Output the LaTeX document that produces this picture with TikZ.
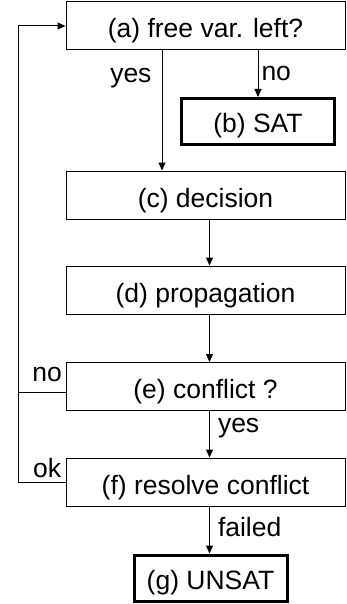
\documentclass[tikz,border=0pt]{standalone}
\usepackage{fontspec}
\setmainfont{Liberation Sans}
\usetikzlibrary{arrows.meta,positioning,calc}
\tikzset{
  stepbox/.style={draw, line width=1pt, minimum width=279pt, minimum height=48pt, inner sep=0pt,
    text height=25pt, text depth=1pt},
  endbox/.style={draw, line width=3pt, minimum width=153pt, minimum height=46pt, inner sep=0pt,
    text height=24pt, text depth=2pt},
  flow/.style={-{Triangle[length=8pt,width=7pt]}, line width=1pt},
  back/.style={line width=1pt},
  lbl/.style={inner sep=0pt},
}

\begin{document}
\begin{tikzpicture}[x=1pt,y=-1pt,font=\fontsize{26.5}{30}\selectfont]
  \useasboundingbox (0,0) rectangle (346,604);

  \node[stepbox] (a) at (205.5,26)   {(a) free var. left?};
  \node[endbox]  (b) at (258,121.5)  {(b) SAT};
  \node[stepbox] (c) at (205.5,195)  {(c) decision};
  \node[stepbox] (d) at (205.5,290)  {(d) propagation};
  \node[stepbox] (e) at (205.5,386.5){(e) conflict ?};
  \node[stepbox] (f) at (205.5,482)  {(f) resolve conflict};
  \node[endbox]  (g) at (210.5,578)  {(g) UNSAT};

  \coordinate (spine) at (209.5,0);
  \coordinate (xyes)  at (162,0);
  \coordinate (loopx) at (18,0);
  \coordinate (eno)   at ([yshift=-5.5pt]e.west);

  \draw[flow] (a.south -| b.north) -- node[lbl,right=3pt,pos=0.5]{no} (b.north);
  \draw[flow] (a.south -| xyes) -- node[lbl,left=10pt,pos=0.23]{yes} (c.north -| xyes);
  \draw[flow] (c.south -| spine) -- (d.north -| spine);
  \draw[flow] (d.south -| spine) -- (e.north -| spine);
  \draw[flow] (e.south -| spine) -- node[lbl,right=8pt,pos=0.375]{yes} (f.north -| spine);
  \draw[flow] (f.south -| spine) -- node[lbl,right=8pt,pos=0.44]{failed} (g.north -| spine);

  % back to the top
  \draw[flow] (f.west) -- node[lbl,above=4pt,pos=0.385]{ok} (f.west -| loopx)
    -- (a.west -| loopx) -- (a.west);
  \draw[back] (eno) -- node[lbl,above=10pt,pos=0.385]{no} (eno -| loopx);
\end{tikzpicture}
\end{document}
